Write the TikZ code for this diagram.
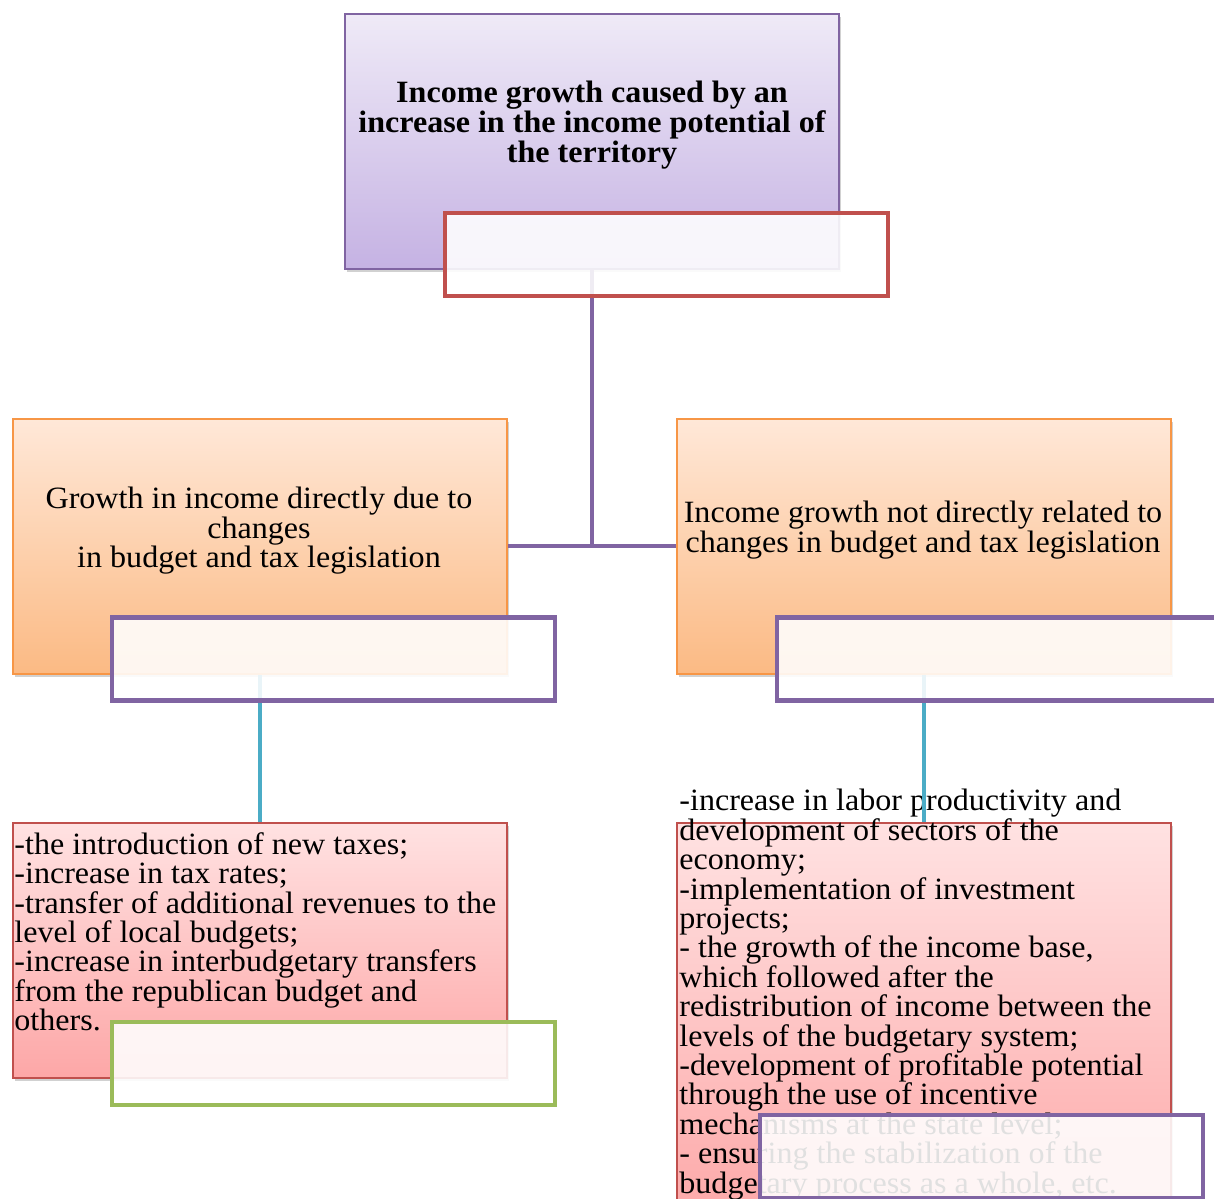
\documentclass[tikz,border=0pt]{standalone}
\usepackage{fontspec}
\setmainfont{Liberation Serif}[FakeStretch=1.035]
\usepackage{xcolor}
\usetikzlibrary{positioning,shadows}
\definecolor{violetline}{HTML}{8064A2}
\definecolor{redline}{HTML}{C0504D}
\definecolor{greenline}{HTML}{9BBB59}
\definecolor{blueline}{HTML}{4BACC6}
\definecolor{orangeline}{HTML}{F79646}
\definecolor{violettop}{HTML}{EFEAF7}
\definecolor{violetbot}{HTML}{C5B2E3}
\definecolor{orangetop}{HTML}{FFE8D8}
\definecolor{orangebot}{HTML}{FBBA84}
\definecolor{pinktop}{HTML}{FFE2E2}
\definecolor{pinkbot}{HTML}{FDA7A7}

\tikzset{
  panel/.style={line width=1pt,inner sep=0pt,minimum width=247pt,minimum height=127.5pt,
                drop shadow={shadow xshift=1.2pt,shadow yshift=-1.6pt,opacity=0.3,fill=black!60}},
  tagbox/.style={line width=2.2pt,fill=white,fill opacity=0.88,inner sep=0pt,
                 minimum width=221.5pt,minimum height=41.5pt},
  link/.style={line width=2.2pt},
  boxtext/.style={inner sep=0pt,font=\fontsize{15.5}{14.7}\selectfont}
}

\begin{document}
\begin{tikzpicture}[x=0.5pt,y=-0.5pt]
  \useasboundingbox (0,0) rectangle (1214,1198);
  \clip (0,0) rectangle (1214,1198);

  \node[panel,draw=violetline,top color=violettop,bottom color=violetbot] (potential) at (592,141.5) {};
  \node[panel,draw=orangeline,top color=orangetop,bottom color=orangebot] (direct) at (260,546) {};
  \node[panel,draw=orangeline,top color=orangetop,bottom color=orangebot] (indirect) at (924,546) {};
  \node[panel,draw=redline,top color=pinktop,bottom color=pinkbot] (directlist) at (260,950) {};
  \node[panel,draw=redline,top color=pinktop,bottom color=pinkbot,minimum height=203.5pt] (indirectlist) at (924,1026) {};

  \node[boxtext,anchor=north,align=center,font=\fontsize{15.5}{15}\selectfont\bfseries] at (592,81)
    {Income growth caused by an\\increase in the income potential of\\the territory};
  \node[boxtext,anchor=north,align=center] at (259,487)
    {Growth in income directly due to\\changes\\in budget and tax legislation};
  \node[boxtext,anchor=north,align=center] at (923,501)
    {Income growth not directly related to\\changes in budget and tax legislation};
  \node[boxtext,anchor=north west,align=left] at (14,832)
    {-the introduction of new taxes;\\-increase in tax rates;\\-transfer of additional revenues to the\\level of local budgets;\\-increase in interbudgetary transfers\\from the republican budget and\\others.};
  \node[boxtext,anchor=north west,align=left] at (679,789)
    {-increase in labor productivity and\\development of sectors of the\\economy;\\-implementation of investment\\projects;\\- the growth of the income base,\\which followed after the\\redistribution of income between the\\levels of the budgetary system;\\-development of profitable potential\\through the use of incentive\\mechanisms at the state level;\\- ensuring the stabilization of the\\budgetary process as a whole, etc.};

  \draw[link,violetline] (potential.south) -- (potential.south |- direct.east);
  \draw[link,violetline] (direct.east) -- (indirect.west);
  \draw[link,blueline] (direct.south) -- (directlist.north);
  \draw[link,blueline] (indirect.south) -- (indirectlist.north);

  \node[tagbox,draw=redline] (potentialtag) at (666.5,254.5) {};
  \node[tagbox,draw=violetline] (directtag) at (333.5,659) {};
  \node[tagbox,draw=violetline] (indirecttag) at (998.5,659) {};
  \node[tagbox,draw=greenline] (directlisttag) at (333.5,1063.5) {};
  \node[tagbox,draw=violetline] (indirectlisttag) at (981.5,1156.5) {};
\end{tikzpicture}
\end{document}
